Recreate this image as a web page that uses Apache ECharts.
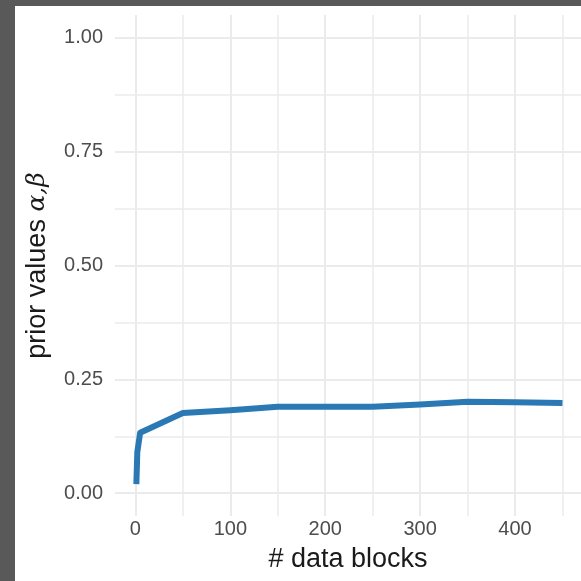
<!DOCTYPE html>
<html>
<head>
<meta charset="utf-8">
<script src="https://cdn.jsdelivr.net/npm/echarts@6/dist/echarts.min.js"></script>
<style>
  html, body { margin: 0; padding: 0; background: #595959; }
  #wrap { position: relative; width: 581px; height: 581px; overflow: hidden; }
  #paper { position: absolute; left: 15px; top: 6px; right: 0; bottom: 0; background: #ffffff; }
  #chart { position: absolute; left: 0; top: 0; width: 581px; height: 581px; }
</style>
</head>
<body>
<div id="wrap">
  <div id="paper"></div>
  <div id="chart"></div>
</div>
<script>
// number of data blocks and the prior value reached for each
const blocks = [1, 2, 5, 50, 100, 150, 200, 250, 300, 350, 400, 450];
const priorValues = [0.02, 0.09, 0.133, 0.176, 0.182, 0.19, 0.19, 0.19, 0.195, 0.201, 0.2, 0.198];

// axis ticks
const xMajorTicks = [0, 100, 200, 300, 400];
const xMinorTicks = [50, 150, 250, 350, 450];
const yMajorTicks = [0, 0.25, 0.5, 0.75, 1.0];
const yMinorTicks = [0.125, 0.375, 0.625, 0.875];

const font = '"Liberation Sans", Arial, Helvetica, sans-serif';
const gridColor = '#ebebeb';

const X_MIN = -21.5, X_MAX = 469.5;
const Y_MIN = -0.05, Y_MAX = 1.05;

const chart = echarts.init(document.getElementById('chart'), null, { renderer: 'canvas' });

function xAxisDef(ticks, withLabels, width) {
  return {
    type: 'value', min: X_MIN, max: X_MAX,
    axisLine: { show: false },
    axisTick: { show: false, customValues: ticks },
    axisLabel: withLabels ? {
      show: true, customValues: ticks, margin: 3,
      color: '#4d4d4d', fontSize: 20, fontFamily: font,
      formatter: v => String(v)
    } : { show: false, customValues: ticks },
    splitLine: { show: true, lineStyle: { color: gridColor, width: width } }
  };
}

function yAxisDef(ticks, withLabels, width) {
  return {
    type: 'value', min: Y_MIN, max: Y_MAX,
    axisLine: { show: false },
    axisTick: { show: false, customValues: ticks },
    axisLabel: withLabels ? {
      show: true, customValues: ticks, margin: 12,
      color: '#4d4d4d', fontSize: 20, fontFamily: font,
      formatter: v => v.toFixed(2)
    } : { show: false, customValues: ticks },
    splitLine: { show: true, lineStyle: { color: gridColor, width: width } }
  };
}

const xMain = xAxisDef(xMajorTicks, true, 2);
xMain.name = '# data blocks';
xMain.nameLocation = 'middle';
xMain.nameGap = 30;
xMain.nameTextStyle = { color: '#1a1a1a', fontSize: 27, fontFamily: font };

const yMain = yAxisDef(yMajorTicks, true, 2);
yMain.name = 'prior values {g|α,β}';
yMain.nameLocation = 'middle';
yMain.nameGap = 64;
yMain.nameTextStyle = {
  color: '#1a1a1a', fontSize: 27, fontFamily: font,
  rich: { g: { fontFamily: '"DejaVu Serif", "Liberation Serif", serif', fontStyle: 'italic', fontSize: 25, color: '#1a1a1a' } }
};

chart.setOption({
  backgroundColor: 'transparent',
  animation: false,
  grid: { left: 115, right: 0, top: 15, bottom: 65, containLabel: false },
  xAxis: [xMain, xAxisDef(xMinorTicks, false, 1.5)],
  yAxis: [yMain, yAxisDef(yMinorTicks, false, 1.5)],
  series: [{
    type: 'line',
    xAxisIndex: 0, yAxisIndex: 0,
    data: blocks.map((b, i) => [b, priorValues[i]]),
    showSymbol: false,
    lineStyle: { color: '#2a79b4', width: 6, cap: 'butt', join: 'round' },
    z: 5
  }]
});
</script>
</body>
</html>
